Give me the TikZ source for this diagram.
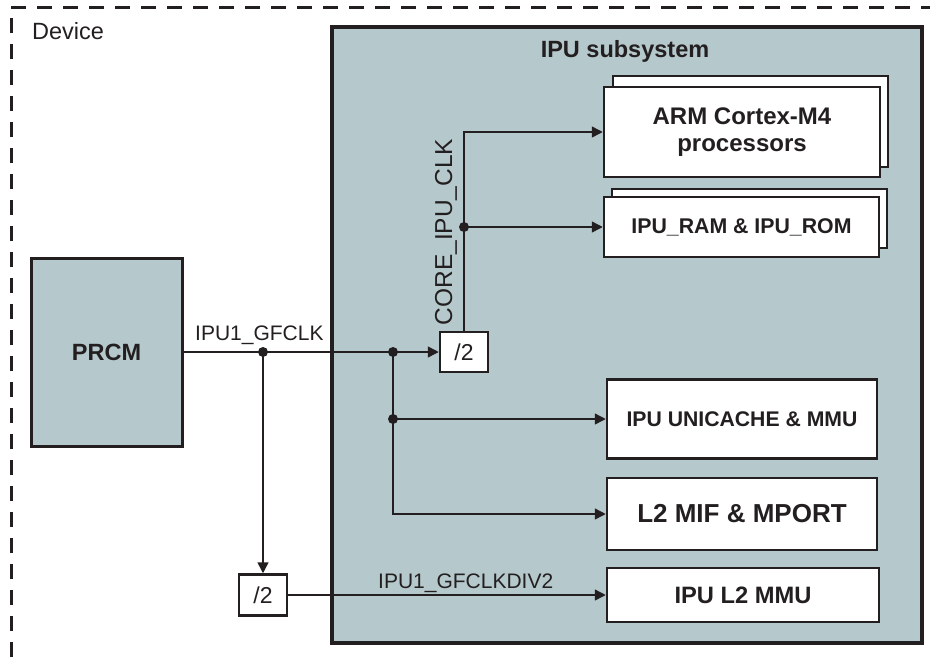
\documentclass[tikz,border=0pt]{standalone}
\usepackage{fontspec}
\setmainfont{Liberation Sans}
\usetikzlibrary{arrows.meta}
\definecolor{subfill}{RGB}{181,200,203}
\definecolor{ink}{RGB}{35,31,32}
\begin{document}
\begin{tikzpicture}[x=1pt,y=-1pt,
  box/.style={draw=ink, line width=2.5pt, fill=white, inner sep=0pt, align=center,
    font=\fontsize{22}{27}\selectfont\bfseries, text=ink},
  conn/.style={draw=ink, line width=1.5pt},
  arr/.style={conn, -{Triangle[length=11pt,width=11pt]}},
  dotn/.style={circle, fill=ink, inner sep=0pt, minimum size=10pt},
  lbl/.style={inner sep=0pt, font=\fontsize{21}{24}\selectfont, text=ink},
]
\useasboundingbox (0,0) rectangle (930,662);
% device dashed border
\draw[ink, line width=3pt, dash pattern=on 15pt off 11pt] (11,7) -- (935,7);
\draw[ink, line width=3pt, dash pattern=on 15pt off 11pt, dash phase=15pt] (11,7) -- (11,670);
\node[lbl, anchor=base west, font=\fontsize{23.5}{26}\selectfont] (dev) at (32,39) {Device};

% IPU subsystem
\node[draw=ink, line width=4pt, fill=subfill, minimum width=590pt, minimum height=616pt, inner sep=0pt] (ipu) at (627,335) {};
\node[lbl, anchor=base, font=\fontsize{23.5}{26}\selectfont\bfseries] (title) at (625,57) {IPU subsystem};

% PRCM
\node[box, fill=subfill, line width=3pt, minimum width=151pt, minimum height=188pt, font=\fontsize{23.5}{26}\selectfont\bfseries] (prcm) at (106.5,352) {PRCM};

% stacked boxes
\node[box, minimum width=275pt, minimum height=91pt] (armb) at (750.5,121.5) {};
\node[box, minimum width=276pt, minimum height=90pt, font=\fontsize{24}{27}\selectfont\bfseries] (arm) at (742,132) {ARM Cortex-M4\\processors};
\node[box, minimum width=275pt, minimum height=59pt] (ramb) at (749.5,218.5) {};
\node[box, minimum width=275pt, minimum height=60pt, font=\fontsize{21.3}{24}\selectfont\bfseries] (ram) at (741.5,227) {IPU\_RAM \& IPU\_ROM};

\node[box, minimum width=270pt, minimum height=79pt, font=\fontsize{21.2}{24}\selectfont\bfseries] (uni) at (742,419) {IPU UNICACHE \& MMU};
\node[box, minimum width=270pt, minimum height=72pt, font=\fontsize{26}{28}\selectfont\bfseries] (mif) at (742,514) {L2 MIF \& MPORT};
\node[box, minimum width=272pt, minimum height=54pt, font=\fontsize{23.7}{26}\selectfont\bfseries] (mmu) at (743,595) {IPU L2 MMU};

% dividers
\node[box, minimum width=48pt, minimum height=40pt, font=\fontsize{23}{26}\selectfont] (div1) at (464,352) {/2};
\node[box, minimum width=48pt, minimum height=41pt, font=\fontsize{23}{26}\selectfont] (div2) at (263,595) {/2};

% junctions
\coordinate (j1) at (263,352);
\coordinate (j2) at (393,352);
\coordinate (j3) at (393,419);
\coordinate (j4) at (464,227);

% connectors
\draw[conn] (prcm.east) -- (j1);
\draw[conn] (j1) -- (j2);
\draw[arr] (j2) -- (div1.west);
\draw[arr] (j1) -- (div2.north);
\draw[arr] (j3) -- (uni.west);
\draw[arr] (j2) |- (mif.west);
\draw[arr] (div1.north) |- (arm.west);
\draw[arr] (j4) -- (ram.west);
\draw[arr] (div2.east) -- (mmu.west);

\node[dotn] (d1) at (j1) {};
\node[dotn] (d2) at (j2) {};
\node[dotn] (d3) at (j3) {};
\node[dotn] (d4) at (j4) {};

% labels
\node[lbl, anchor=base west] (l1) at (195,340) {IPU1\_GFCLK};
\node[lbl, anchor=base west] (l2) at (378,588) {IPU1\_GFCLKDIV2};
\node[lbl, anchor=base, rotate=90, font=\fontsize{24.5}{27}\selectfont] (l3) at (452,232) {CORE\_IPU\_CLK};
\end{tikzpicture}
\end{document}
